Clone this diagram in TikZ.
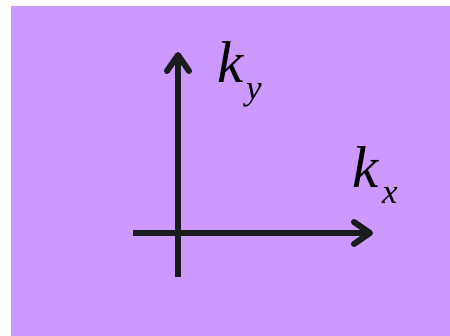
\documentclass[tikz,border=0pt]{standalone}
\usepackage{fontspec}
\setmainfont{Liberation Serif}
\usetikzlibrary{arrows.meta}
\definecolor{bgpurple}{RGB}{204,153,255}
\definecolor{axisdark}{RGB}{26,28,28}
\tikzset{
  axisline/.style={draw=axisdark, line width=6pt},
  axisarrow/.style={axisline, -{Straight Barb[length=16pt,width=22pt,line cap=round,line join=round]}},
  klabel/.style={inner sep=0pt, anchor=base west, font=\fontsize{59}{59}\selectfont\itshape},
  sublabel/.style={inner sep=0pt, anchor=base west, font=\fontsize{35}{35}\selectfont\itshape},
}
\begin{document}
\begin{tikzpicture}[x=1pt,y=-1pt]
\useasboundingbox (0,0) rectangle (450,336);
\fill[bgpurple] (11,6) rectangle (450,336);
\coordinate (ybot) at (178,277);
\coordinate (ytop) at (178,52);
\coordinate (xleft) at (133,233);
\coordinate (xright) at (373,233);
\draw[axisarrow] (ybot) -- (ytop);
\draw[axisarrow] (xleft) -- (xright);
\node[klabel] (ky) at (217,83) {k};
\node[sublabel] (kysub) at (246,100) {y};
\node[klabel] (kx) at (352,188) {k};
\node[sublabel] (kxsub) at (382,204) {x};
\end{tikzpicture}
\end{document}
